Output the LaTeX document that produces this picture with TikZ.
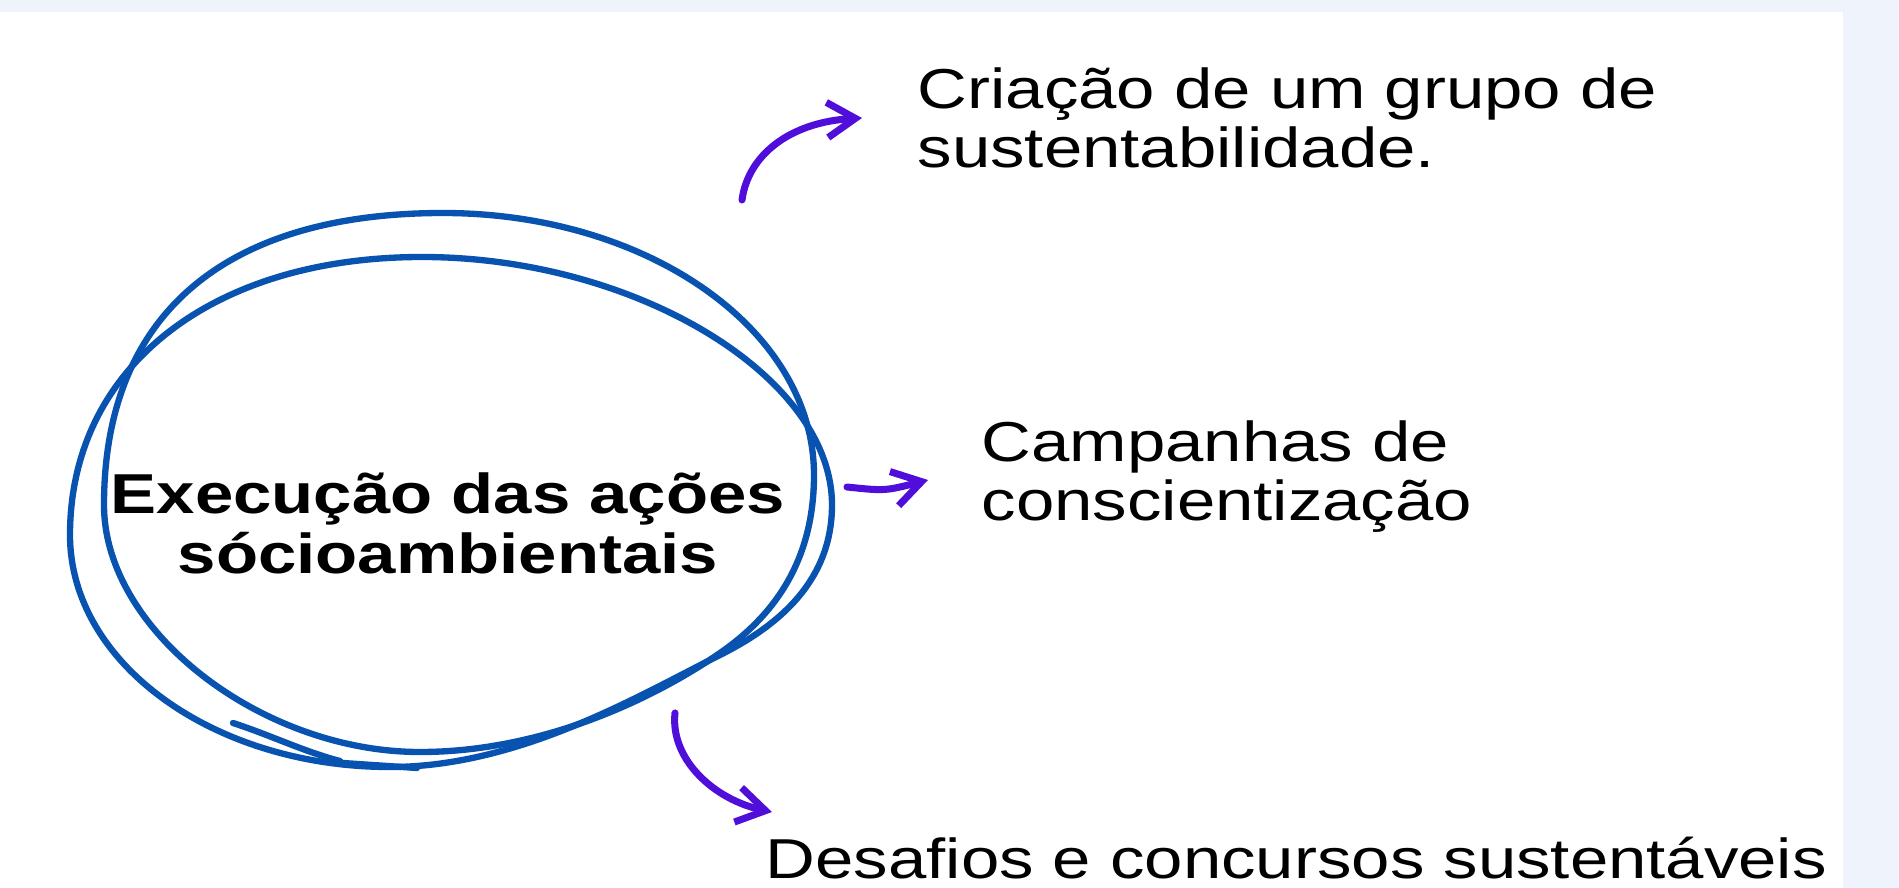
\documentclass[tikz,border=0pt]{standalone}
\usepackage{fontspec}
\setmainfont{Liberation Sans}
\newfontfamily\labfont[FakeStretch=1.225]{Liberation Sans}
\usetikzlibrary{arrows.meta}
\definecolor{bgblue}{RGB}{238,243,252}
\definecolor{loopblue}{RGB}{8,82,176}
\definecolor{arrowpurple}{RGB}{80,14,218}
\tikzset{
  loopline/.style={draw=loopblue, line width=1.8pt, line cap=round, line join=round},
  sketcharrow/.style={draw=arrowpurple, line width=2pt, line cap=round,
    -{Straight Barb[length=8pt,width=10pt,line width=2pt]}},
  labeltext/.style={inner sep=0pt, align=left, font=\labfont\fontsize{16}{17}\selectfont, text=black},
  maintext/.style={inner sep=0pt, align=center, font=\labfont\bfseries\fontsize{16}{17}\selectfont, text=black}
}
\begin{document}
\begin{tikzpicture}[x=0.01cm,y=-0.01cm]
\useasboundingbox (0,0) rectangle (1899,888);
\fill[bgblue] (0,0) rectangle (1899,888);
\fill[white] (0,12) rectangle (1843,888);

% hand-drawn double loop: loop A (rounder, higher top)
\draw[loopline] (443,213)
  .. controls (648,213) and (814,330) .. (814,475)
  .. controls (814,560) and (775,615) .. (720,653)
  .. controls (650,701) and (540,752) .. (420,752)
  .. controls (262,752) and (104,631) .. (104,505)
  .. controls (104,317) and (222,213) .. (443,213);
% loop B (flatter, wider)
\draw[loopline] (422,257)
  .. controls (635,257) and (832,376) .. (832,505)
  .. controls (832,580) and (780,625) .. (720,655)
  .. controls (640,695) and (520,767) .. (390,767)
  .. controls (213,767) and (70,663) .. (70,535)
  .. controls (70,368) and (211,257) .. (422,257);
% pen start / end strokes
\draw[loopline] (233,723) .. controls (270,735) and (305,752) .. (340,761);
\draw[loopline] (343,763) -- (417,768);

% center text
\node[maintext, anchor=base] (exec) at (448,573) {Execução das ações\\sócioambientais};

% labels
\node[labeltext, anchor=base west] (crea) at (917,168) {Criação de um grupo de\\sustentabilidade.};
\node[labeltext, anchor=base west] (camp) at (981,521) {Campanhas de\\conscientização};
\node[labeltext, anchor=base west] (desa) at (765,878) {Desafios e concursos sustentáveis};

% arrows
\coordinate (a1s) at (742,200);
\coordinate (a1e) at (862,118);
\coordinate (a2s) at (847,487);
\coordinate (a2e) at (928,480);
\coordinate (a3s) at (675,713);
\coordinate (a3e) at (772,812);
\draw[sketcharrow] (a1s) .. controls (748,155) and (790,122) .. (a1e);
\draw[sketcharrow] (a2s) .. controls (885,491) .. (a2e);
\draw[sketcharrow] (a3s) .. controls (670,760) and (715,800) .. (a3e);
\end{tikzpicture}
\end{document}
